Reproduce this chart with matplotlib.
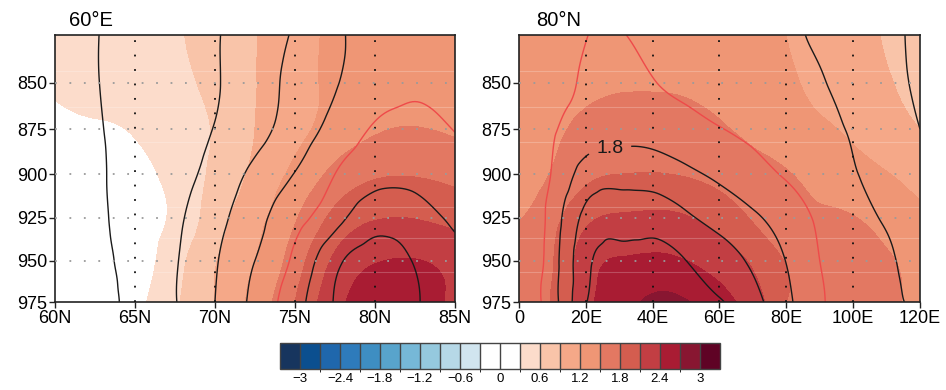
import numpy as np
import matplotlib
matplotlib.use('Agg')
from matplotlib import pyplot as plt
from matplotlib.colors import ListedColormap, BoundaryNorm
from matplotlib.ticker import NullLocator
from matplotlib.tri import Triangulation, UniformTriRefiner

plt.rcParams['font.family'] = ['Liberation Sans', 'DejaVu Sans']

# pressure levels (hPa), shared by both cross sections
plev = [825, 850, 875, 900, 925, 950, 975]

# --- 60E section (latitude) ---
lat = [60, 62.5, 65, 67.5, 70, 72.5, 75, 77.5, 80, 82.5, 85]
shade_60e = [
    [0.40, 0.45, 0.50, 0.57, 0.72, 0.89, 1.07, 1.26, 1.36, 1.42, 1.45],
    [0.34, 0.40, 0.46, 0.54, 0.68, 0.89, 1.08, 1.27, 1.38, 1.44, 1.45],
    [0.22, 0.27, 0.33, 0.50, 0.62, 0.90, 1.12, 1.32, 1.47, 1.51, 1.46],
    [0.12, 0.17, 0.22, 0.40, 0.66, 0.97, 1.27, 1.58, 1.76, 1.78, 1.72],
    [0.05, 0.10, 0.18, 0.36, 0.76, 1.10, 1.47, 1.88, 2.08, 2.09, 2.00],
    [0.00, 0.06, 0.16, 0.48, 0.88, 1.20, 1.65, 2.15, 2.38, 2.41, 2.30],
    [-0.05, 0.05, 0.22, 0.55, 0.90, 1.30, 1.80, 2.30, 2.55, 2.55, 2.32],
]
cont_60e = [
    [0.20, 0.29, 0.39, 0.48, 0.58, 0.75, 0.93, 1.15, 1.32, 1.40, 1.38],
    [0.20, 0.29, 0.38, 0.47, 0.58, 0.76, 0.98, 1.18, 1.36, 1.46, 1.42],
    [0.18, 0.28, 0.37, 0.47, 0.61, 0.80, 1.04, 1.30, 1.53, 1.58, 1.49],
    [0.15, 0.27, 0.37, 0.50, 0.70, 0.97, 1.21, 1.50, 1.70, 1.72, 1.63],
    [0.12, 0.25, 0.39, 0.55, 0.80, 1.10, 1.40, 1.70, 1.98, 1.93, 1.74],
    [0.10, 0.21, 0.40, 0.58, 0.87, 1.20, 1.56, 2.02, 2.22, 2.08, 1.90],
    [0.05, 0.16, 0.40, 0.59, 0.90, 1.28, 1.68, 2.12, 2.30, 2.13, 1.95],
]
lat_ticks = [60, 65, 70, 75, 80, 85]
lat_labels = ['60N', '65N', '70N', '75N', '80N', '85N']

# --- 80N section (longitude) ---
lon = [0, 10, 20, 30, 40, 50, 60, 70, 80, 90, 100, 110, 120]
shade_80n = [
    [1.40, 1.42, 1.44, 1.45, 1.45, 1.42, 1.36, 1.28, 1.20, 1.08, 0.98, 0.88, 0.78],
    [1.38, 1.43, 1.46, 1.48, 1.48, 1.46, 1.40, 1.32, 1.24, 1.13, 1.02, 0.92, 0.82],
    [1.35, 1.45, 1.55, 1.60, 1.61, 1.60, 1.53, 1.43, 1.31, 1.24, 1.15, 1.03, 0.90],
    [1.38, 1.52, 1.73, 1.80, 1.81, 1.78, 1.70, 1.60, 1.52, 1.40, 1.30, 1.21, 1.10],
    [1.49, 1.70, 2.03, 2.14, 2.16, 2.12, 1.98, 1.77, 1.60, 1.54, 1.51, 1.38, 1.26],
    [1.55, 1.78, 2.25, 2.42, 2.45, 2.40, 2.26, 2.05, 1.78, 1.66, 1.60, 1.53, 1.40],
    [1.58, 1.82, 2.30, 2.55, 2.78, 2.72, 2.52, 2.25, 1.80, 1.70, 1.64, 1.55, 1.42],
]
cont_80n = [
    [1.30, 1.40, 1.495, 1.51, 1.46, 1.42, 1.38, 1.33, 1.26, 1.15, 1.06, 0.96, 0.85],
    [1.30, 1.42, 1.53, 1.58, 1.51, 1.45, 1.40, 1.35, 1.29, 1.22, 1.10, 0.98, 0.86],
    [1.32, 1.47, 1.63, 1.70, 1.68, 1.60, 1.51, 1.45, 1.38, 1.27, 1.18, 1.06, 0.90],
    [1.35, 1.52, 1.92, 1.99, 1.97, 1.86, 1.74, 1.60, 1.48, 1.38, 1.22, 1.12, 1.00],
    [1.25, 1.62, 2.18, 2.28, 2.28, 2.15, 2.00, 1.85, 1.65, 1.46, 1.30, 1.18, 1.10],
    [1.22, 1.66, 2.32, 2.48, 2.50, 2.40, 2.24, 2.05, 1.79, 1.50, 1.38, 1.24, 1.12],
    [1.20, 1.68, 2.38, 2.55, 2.60, 2.52, 2.42, 2.20, 1.87, 1.54, 1.40, 1.26, 1.17],
]
lon_ticks = [0, 20, 40, 60, 80, 100, 120]
lon_labels = ['0', '20E', '40E', '60E', '80E', '100E', '120E']

p_ticks = [850, 875, 900, 925, 950, 975]

# shading levels and colours
shade_levels = [-3.0, -2.7, -2.4, -2.1, -1.8, -1.5, -1.2, -0.9, -0.6, -0.3, 0.0,
                0.3, 0.6, 0.9, 1.2, 1.5, 1.8, 2.1, 2.4, 2.7, 3.0]
bar_ticks = [-3, -2.4, -1.8, -1.2, -0.6, 0, 0.6, 1.2, 1.8, 2.4, 3]
bar_labels = ['\u22123', '\u22122.4', '\u22121.8', '\u22121.2', '\u22120.6', '0',
              '0.6', '1.2', '1.8', '2.4', '3']
line_levels = [0.3, 0.6, 0.9, 1.2, 2.1, 2.4, 2.7]
label_level = [1.8]
red_level = [1.5]

colors = ['#0b4f8f', '#1f67ac', '#2e7bbb', '#3e8ec2', '#58a4cc', '#76b8d7',
          '#95c9de', '#b6d8e7', '#d1e5ef', '#ffffff', '#ffffff', '#fcdccb',
          '#f9c4a9', '#f5a888', '#ef9675', '#e37862', '#d45d4f', '#c23e43',
          '#a91c33', '#881631']
cmap = ListedColormap(colors)
cmap.set_under('#17355e')
cmap.set_over('#5f0325')
norm = BoundaryNorm(shade_levels, cmap.N)

# faint level seams that show through the shading
seam_p = [844, 863, 882, 919, 937, 957]


def smooth_grid(x, field, aspect):
    # triangulate the grid in screen-like units and let matplotlib refine it
    nx, ny = len(x), len(plev)
    u = (np.asarray(x, float) - x[0]) / (x[-1] - x[0]) * aspect
    lp = np.log(plev)
    v = (lp - lp[0]) / (lp[-1] - lp[0])
    U, V = np.meshgrid(u, v)
    tris = []
    for j in range(ny - 1):
        for i in range(nx - 1):
            a = j * nx + i
            tris.append([a, a + 1, a + nx + 1])
            tris.append([a, a + nx + 1, a + nx])
    tri = Triangulation(U.ravel(), V.ravel(), tris)
    tri_r, z_r = UniformTriRefiner(tri).refine_field(np.asarray(field, float).ravel(), subdiv=4)
    xr = x[0] + tri_r.x / aspect * (x[-1] - x[0])
    pr = np.exp(lp[0] + tri_r.y * (lp[-1] - lp[0]))
    return Triangulation(xr, pr, tri_r.triangles), z_r


def draw_section(ax, x, shade, cont, xticks, xlabels, title, tx, label_pos=None):
    aspect = 1.5
    tri_s, zs = smooth_grid(x, shade, aspect)
    tri_c, zc = smooth_grid(x, cont, aspect)
    cf = ax.tricontourf(tri_s, zs, levels=shade_levels, cmap=cmap, norm=norm,
                        extend='both', zorder=1)
    for p in seam_p:
        ax.axhline(p, color='white', alpha=0.22, lw=0.8, zorder=1.5)
    ax.tricontour(tri_c, zc, levels=line_levels, colors='#1a1a1a',
                  linewidths=1.0, zorder=2)
    cs18 = ax.tricontour(tri_c, zc, levels=label_level, colors='#1a1a1a',
                         linewidths=1.0, zorder=2)
    ax.tricontour(tri_c, zc, levels=red_level, colors='#ee4a4a',
                  linewidths=1.0, zorder=2)
    if label_pos is not None:
        texts = ax.clabel(cs18, manual=[label_pos], inline=True,
                          fontsize=14, fmt='%.1f', inline_spacing=8)
        for t in texts:
            t.set_rotation(0)

    ax.set_yscale('log')
    ax.set_ylim(975, 825)
    ax.set_xlim(x[0], x[-1])
    ax.yaxis.set_minor_locator(NullLocator())
    ax.xaxis.set_minor_locator(NullLocator())
    ax.set_yticks(p_ticks)
    ax.set_yticklabels([str(p) for p in p_ticks])
    ax.set_xticks(xticks)
    ax.set_xticklabels(xlabels)
    ax.tick_params(direction='out', length=4, width=1.0, labelsize=13, color='#222222')
    ax.tick_params(axis='y', pad=1.5)
    ax.tick_params(axis='x', pad=1.5)

    # dotted grid: black verticals, grey horizontals
    for xv in xticks[1:-1]:
        ax.axvline(xv, color='#111111', lw=1.3, ls=(0, (1, 7)), zorder=3)
    for p in p_ticks[:-1]:
        ax.axhline(p, color='#9a9a9a', lw=1.3, ls=(0, (1, 7)), zorder=3)

    for sp in ax.spines.values():
        sp.set_linewidth(1.2)
        sp.set_color('#222222')
    ax.text(tx, 1.033, title, transform=ax.transAxes, fontsize=14.5,
            va='baseline', ha='left')
    return cf


fig = plt.figure(figsize=(9.46, 3.9), dpi=100)
ax1 = fig.add_axes([0.0581, 0.2256, 0.4228, 0.6846])
ax2 = fig.add_axes([0.5486, 0.2256, 0.4239, 0.6846])

cf = draw_section(ax1, lat, shade_60e, cont_60e, lat_ticks, lat_labels, '60\u00b0E', 0.035)
draw_section(ax2, lon, shade_80n, cont_80n, lon_ticks, lon_labels, '80\u00b0N', 0.044,
             label_pos=(27, 884))

cax = fig.add_axes([0.296, 0.054, 0.465, 0.0667])
cb = fig.colorbar(cf, cax=cax, orientation='horizontal', ticks=bar_ticks,
                  extendrect=True, drawedges=True)
cb.set_ticklabels(bar_labels)
cb.ax.tick_params(length=0, labelsize=9.5, pad=3)
cb.outline.set_edgecolor('#444444')
cb.outline.set_linewidth(1.0)
cb.dividers.set_color('#444444')
cb.dividers.set_linewidth(1.0)

fig.savefig('out.png', dpi=100)
